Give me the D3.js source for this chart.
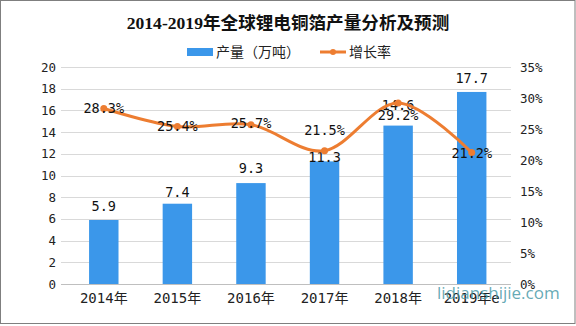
<!DOCTYPE html>
<html><head><meta charset="utf-8">
<script src="https://cdn.jsdelivr.net/npm/d3@7"></script>
<style>
html,body{margin:0;padding:0;background:#fff;}
svg{display:block;}
</style>
</head><body>
<svg id="chart" width="576" height="326"></svg>
<script>
// ---- data ----
const categories = ["2014年","2015年","2016年","2017年","2018年","2019年e"];
const output = [5.9, 7.4, 9.3, 11.3, 14.6, 17.7];          // 产量（万吨）
const growth = [28.3, 25.4, 25.7, 21.5, 29.2, 21.2];       // 增长率 (%)
const leftTicks = [0,2,4,6,8,10,12,14,16,18,20];
const rightTicks = [0,5,10,15,20,25,30,35];
const title = "2014-2019年全球锂电铜箔产量分析及预测";
const seriesNames = ["产量（万吨）","增长率"];
// label nudges (layout only)
const barLabelDy = [-9,-7,-10,1,-16,-9];
const rateLabelDy = [0,0,-1,-20,13,1];

const svg = d3.select("#chart");
const W = 576, H = 326;
const blue = "#3b97ea", orange = "#ed7d31";
const numFont = "'DejaVu Sans Mono','Liberation Mono',monospace";
const cjkFont = "'DejaVu Sans Mono','Noto Sans CJK SC',sans-serif";

svg.append("rect").attr("x",0.5).attr("y",0.5).attr("width",W-1.5).attr("height",H-3)
  .attr("fill","#fff").attr("stroke","#7f7f7f").attr("stroke-width",1);

const plotL = 61, plotR = 511;
const x = d3.scaleBand().domain(categories).range([67, 508.5]).paddingInner(0.6).paddingOuter(0.3);
const y = d3.scaleLinear().domain([0,20]).range([284,67]);
const y2 = d3.scaleLinear().domain([0,35]).range([284,67]);

// gridlines
svg.append("g").selectAll("line").data(leftTicks).join("line")
  .attr("x1",plotL).attr("x2",plotR)
  .attr("y1",d=>Math.round(y(d))+0.5).attr("y2",d=>Math.round(y(d))+0.5)
  .attr("stroke",d=>d===0?"#bfbfbf":"#d9d9d9").attr("stroke-width",1);

// left axis
const la = svg.append("g").attr("transform","translate(56,0)")
  .call(d3.axisLeft(y).tickValues(leftTicks).tickSize(0).tickPadding(0).tickFormat(d3.format("d")));
la.select(".domain").remove();
la.selectAll("text").attr("font-family",numFont).attr("font-size",12.5).attr("fill","#222");

// right axis
const ra = svg.append("g").attr("transform","translate(520,0)")
  .call(d3.axisRight(y2).tickValues(rightTicks).tickSize(0).tickPadding(0).tickFormat(d=>d+"%"));
ra.select(".domain").remove();
ra.selectAll("text").attr("font-family",numFont).attr("font-size",12.5).attr("fill","#222");

// x axis labels
const xa = svg.append("g").attr("transform","translate(0,293)")
  .call(d3.axisBottom(x).tickSize(0).tickPadding(0));
xa.select(".domain").remove();
xa.selectAll("text").attr("font-family",cjkFont).attr("font-size",14).attr("fill","#222");

// bars
const bw = x.bandwidth();
svg.append("g").selectAll("rect").data(output).join("rect")
  .attr("x",(d,i)=>x(categories[i]))
  .attr("y",d=>y(d)).attr("width",bw).attr("height",d=>y(0)-y(d))
  .attr("fill",blue);

// bar labels
svg.append("g").selectAll("text").data(output).join("text")
  .attr("x",(d,i)=>x(categories[i])+bw/2)
  .attr("y",(d,i)=>y(d)+barLabelDy[i])
  .attr("text-anchor","middle").attr("font-family",numFont).attr("font-size",13.5).attr("fill","#111")
  .text(d=>d.toFixed(1));

// growth line
const cx = (i)=>x(categories[i])+bw/2;
const line = d3.line().x((d,i)=>cx(i)).y(d=>y2(d)).curve(d3.curveCardinal.tension(0));
svg.append("path").datum(growth).attr("d",line)
  .attr("fill","none").attr("stroke",orange).attr("stroke-width",3).attr("stroke-linejoin","round");
svg.append("g").selectAll("circle").data(growth).join("circle")
  .attr("cx",(d,i)=>cx(i)).attr("cy",d=>y2(d)).attr("r",3.5).attr("fill",orange);

// growth labels
svg.append("g").selectAll("text").data(growth).join("text")
  .attr("x",(d,i)=>cx(i))
  .attr("y",(d,i)=>y2(d)+rateLabelDy[i]+4.5)
  .attr("text-anchor","middle").attr("font-family",numFont).attr("font-size",13.5).attr("fill","#111")
  .text(d=>d.toFixed(1)+"%");

// title
svg.append("text").attr("x",288).attr("y",29).attr("text-anchor","middle")
  .attr("font-family","'Liberation Serif','Noto Sans CJK SC',serif").attr("font-weight","bold")
  .attr("font-size",17.6).attr("fill","#111").text(title);

// legend
const lg = svg.append("g");
lg.append("rect").attr("x",187).attr("y",48).attr("width",26).attr("height",8).attr("fill",blue);
lg.append("text").attr("x",216).attr("y",57).attr("font-family","'Noto Sans CJK SC',sans-serif")
  .attr("font-size",14).attr("fill","#222").text(seriesNames[0]);
lg.append("line").attr("x1",320).attr("x2",346).attr("y1",52).attr("y2",52)
  .attr("stroke",orange).attr("stroke-width",3);
lg.append("circle").attr("cx",333).attr("cy",52).attr("r",3).attr("fill",orange);
lg.append("text").attr("x",349).attr("y",57).attr("font-family","'Noto Sans CJK SC',sans-serif")
  .attr("font-size",14).attr("fill","#222").text(seriesNames[1]);

// watermark
svg.append("text").attr("x",437).attr("y",299).attr("font-family","'Open Sans','Liberation Sans',sans-serif")
  .attr("font-size",17).attr("fill","#4a9aa8").attr("fill-opacity",0.85).text("lidianshijie.com");
</script>
</body></html>
